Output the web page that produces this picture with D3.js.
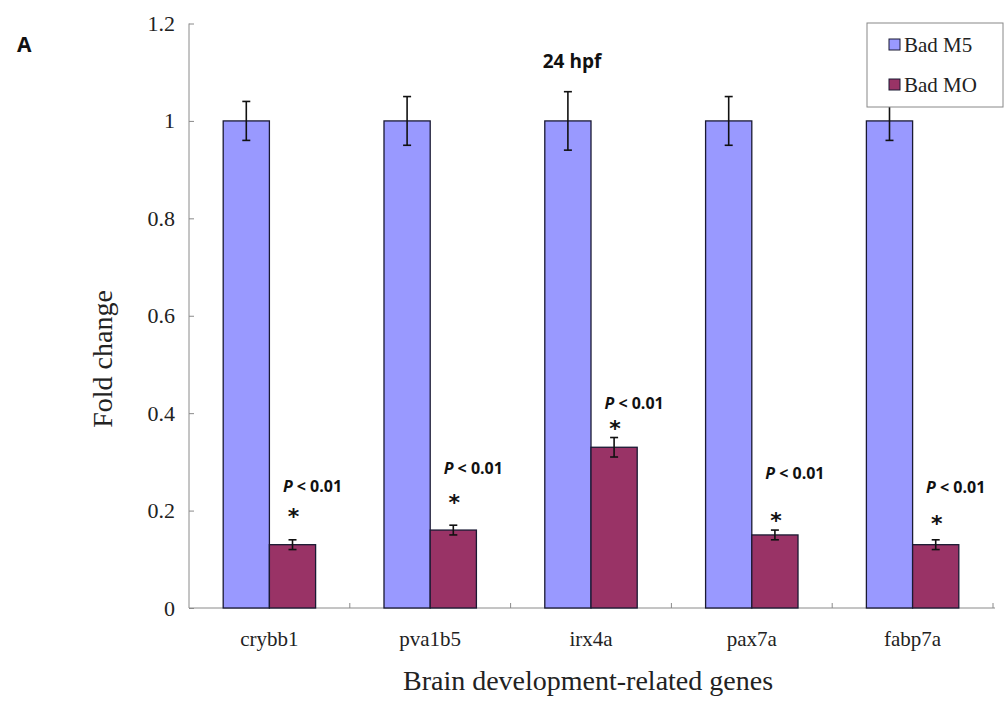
<!DOCTYPE html>
<html>
<head>
<meta charset="utf-8">
<script src="https://cdn.jsdelivr.net/npm/d3@7"></script>
<style>
  body { margin: 0; background: #fff; }
  svg { display: block; }
</style>
</head>
<body>
<svg id="chart" width="1004" height="702"></svg>
<script>
const categories = ["crybb1", "pva1b5", "irx4a", "pax7a", "fabp7a"];
const seriesNames = ["Bad M5", "Bad MO"];
const m5Values = [1, 1, 1, 1, 1];
const m5Errors = [0.04, 0.05, 0.06, 0.05, 0.04];
const moValues = [0.13, 0.16, 0.33, 0.15, 0.13];
const moErrors = [0.01, 0.01, 0.02, 0.01, 0.01];
const starY = [0.20, 0.227, 0.38, 0.19, 0.185];
const pLabelY = [0.25, 0.287, 0.42, 0.277, 0.248];
const pLabel = "< 0.01";
const yTicks = [0, 0.2, 0.4, 0.6, 0.8, 1, 1.2];
const colors = ["#9999FF", "#993366"];

(function() {
const svg = d3.select("#chart");
const pLeft = 189, pRight = 993, pTop = 23.5, pBottom = 608;

const x = d3.scaleBand().domain(categories).range([pLeft, pRight]).paddingInner(0).paddingOuter(0);
const xs = d3.scaleBand().domain(seriesNames).range([0, x.bandwidth()]).paddingInner(0).paddingOuter(0.74);
const y = d3.scaleLinear().domain([0, 1.2]).range([pBottom, pTop]);

const axisColor = "#8a8a8a";
const serif = "'Liberation Serif', 'DejaVu Serif', serif";

// Y axis
const yAxis = svg.append("g").attr("transform", `translate(${pLeft},0)`)
  .call(d3.axisLeft(y).tickValues(yTicks).tickFormat(d => d3.format("~g")(d)).tickSize(-5).tickPadding(14));
yAxis.select(".domain").attr("stroke", axisColor).attr("d", `M0,${pBottom}V${pTop}`);
yAxis.selectAll(".tick line").attr("stroke", axisColor);
yAxis.selectAll(".tick text").attr("font-family", serif).attr("font-size", 22).attr("fill", "#222");

// X axis
const xAxis = svg.append("g").attr("transform", `translate(0,${pBottom})`)
  .call(d3.axisBottom(x).tickSize(0).tickPadding(23));
xAxis.select(".domain").attr("stroke", axisColor).attr("d", `M${pLeft},0H${pRight + 2}`);
xAxis.selectAll(".tick text").attr("font-family", serif).attr("font-size", 21).attr("fill", "#222");
// category boundary ticks (pointing up)
const bounds = categories.map(c => x(c) + x.bandwidth());
svg.append("g").selectAll("line").data(bounds).join("line")
  .attr("x1", d => d).attr("x2", d => d)
  .attr("y1", pBottom).attr("y2", pBottom - 5)
  .attr("stroke", axisColor);

// Bars
const groups = svg.append("g").selectAll("g").data(categories).join("g")
  .attr("transform", d => `translate(${x(d)},0)`);

const rows = categories.map((c, i) => [
  { s: seriesNames[0], v: m5Values[i], e: m5Errors[i], color: colors[0] },
  { s: seriesNames[1], v: moValues[i], e: moErrors[i], color: colors[1] }
]);

groups.each(function(c, i) {
  const g = d3.select(this);
  g.selectAll("rect").data(rows[i]).join("rect")
    .attr("x", d => xs(d.s)).attr("width", xs.bandwidth())
    .attr("y", d => y(d.v)).attr("height", d => y(0) - y(d.v))
    .attr("fill", d => d.color).attr("stroke", "#1a1a33").attr("stroke-width", 1.3);
  const eb = g.selectAll("g.err").data(rows[i]).join("g").attr("class", "err");
  const cx = d => xs(d.s) + xs.bandwidth() / 2;
  eb.append("line").attr("x1", cx).attr("x2", cx)
    .attr("y1", d => y(d.v + d.e)).attr("y2", d => y(d.v - d.e))
    .attr("stroke", "#111").attr("stroke-width", 1.6);
  eb.append("line").attr("x1", d => cx(d) - 4).attr("x2", d => cx(d) + 4)
    .attr("y1", d => y(d.v + d.e)).attr("y2", d => y(d.v + d.e))
    .attr("stroke", "#111").attr("stroke-width", 1.6);
  eb.append("line").attr("x1", d => cx(d) - 4).attr("x2", d => cx(d) + 4)
    .attr("y1", d => y(d.v - d.e)).attr("y2", d => y(d.v - d.e))
    .attr("stroke", "#111").attr("stroke-width", 1.6);

  const moX = xs(seriesNames[1]) + xs.bandwidth() / 2;
  // asterisk
  g.append("text").attr("x", moX + 1).attr("y", y(starY[i]) + 13)
    .attr("text-anchor", "middle").attr("font-family", "'DejaVu Sans', sans-serif")
    .attr("font-weight", "bold").attr("font-size", 22).attr("fill", "#111").text("*");
  // P label
  const t = g.append("text").attr("x", moX + 20).attr("y", y(pLabelY[i]) + 6)
    .attr("text-anchor", "middle").attr("font-family", "'Open Sans', sans-serif")
    .attr("font-weight", "bold").attr("font-size", 16).attr("fill", "#111");
  t.append("tspan").attr("font-style", "italic").text("P");
  t.append("tspan").text(" " + pLabel);
});

// Title
svg.append("text").attr("x", 572).attr("y", 68).attr("text-anchor", "middle")
  .attr("font-family", "'Open Sans', sans-serif").attr("font-weight", "bold")
  .attr("font-size", 19).attr("fill", "#111").text("24 hpf");

// Panel letter
svg.append("text").attr("x", 17).attr("y", 52)
  .attr("font-family", "'Open Sans', sans-serif").attr("font-weight", "bold")
  .attr("font-size", 21).attr("fill", "#111").text("A");

// Axis titles
svg.append("text").attr("transform", `translate(112,359) rotate(-90)`).attr("text-anchor", "middle")
  .attr("font-family", serif).attr("font-size", 28).attr("fill", "#222").text("Fold change");
svg.append("text").attr("x", 588).attr("y", 690).attr("text-anchor", "middle")
  .attr("font-family", serif).attr("font-size", 28).attr("fill", "#222").text("Brain development-related genes");

// Legend
const lg = svg.append("g");
lg.append("rect").attr("x", 867).attr("y", 23).attr("width", 136).attr("height", 84)
  .attr("fill", "#fff").attr("stroke", "#888").attr("stroke-width", 1);
seriesNames.forEach((s, i) => {
  lg.append("rect").attr("x", 889).attr("y", 39 + i * 40).attr("width", 11).attr("height", 11)
    .attr("fill", colors[i]).attr("stroke", "#1a1a33").attr("stroke-width", 1);
  lg.append("text").attr("x", 904).attr("y", 52 + i * 40)
    .attr("font-family", serif).attr("font-size", 21).attr("fill", "#222").text(s);
});
})();
</script>
</body>
</html>
